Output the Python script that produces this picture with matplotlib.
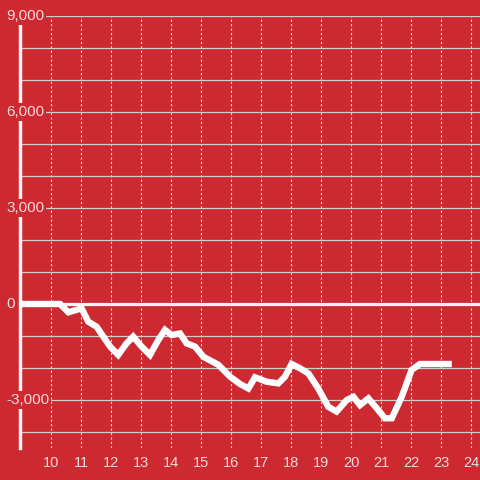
import matplotlib
matplotlib.use('Agg')
import matplotlib.pyplot as plt
import matplotlib.transforms as mtransforms
import numpy as np

BG = '#cc2a30'
TXT = '#f3dada'

plt.rc('font', family=['Liberation Sans', 'DejaVu Sans'], size=10.5)

# hours of the day and running balance
hours = [9.0, 10.3, 10.58, 11.02, 11.24, 11.52, 11.97, 12.24, 12.52, 12.74, 13.02, 13.3,
         13.58, 13.8, 14.02, 14.3, 14.52, 14.8, 15.08, 15.58, 15.97, 16.3, 16.58, 16.8,
         17.19, 17.58, 17.8, 18.02, 18.3, 18.58, 18.91, 19.24, 19.52, 19.86, 20.08, 20.3,
         20.58, 20.86, 21.13, 21.36, 21.69, 22.02, 22.3, 23.36]
balance = [0, 0, -260, -135, -550, -710, -1330, -1590, -1230, -1020, -1330, -1590,
           -1120, -810, -970, -920, -1230, -1330, -1650, -1900, -2270, -2500, -2640, -2290,
           -2430, -2480, -2270, -1875, -2010, -2170, -2640, -3210, -3360, -3000, -2900, -3160,
           -2950, -3260, -3570, -3570, -2900, -2060, -1875, -1875]

x_ticks = list(range(10, 25))
y_ticks = [-3000, 0, 3000, 6000, 9000]
y_labels = ['-3,000', '0', '3,000', '6,000', '9,000']

fig = plt.figure(figsize=(4.8, 4.8), dpi=100, facecolor=BG)
ax = fig.add_axes([20 / 480, 32 / 480, 460 / 480, 432 / 480])
ax.set_facecolor(BG)
ax.set_xlim(8.967, 24.3)
ax.set_ylim(-4500, 9000)

for s in ['top', 'right', 'bottom']:
    ax.spines[s].set_visible(False)
ax.spines['left'].set_color('#f5f5f5')
ax.spines['left'].set_linewidth(2.5)

ax.set_axisbelow(True)
ax.set_yticks(np.arange(-4000, 9001, 1000))
ax.set_yticklabels([])
ax.set_xticks(x_ticks)
ax.set_xticklabels([str(t) for t in x_ticks])
ax.tick_params(axis='y', length=0)
ax.tick_params(axis='x', length=0, pad=6, colors=TXT, labelsize=10.5)
ax.grid(axis='y', color='#cfcfcf', linewidth=0.9, linestyle='-')
ax.grid(axis='x', color='#f0e0e0', linewidth=0.8, linestyle=(0, (2, 2)))

ax.axhline(0, color='#f5f5f5', linewidth=2.3, zorder=2)
ax.plot(hours, balance, color='white', linewidth=4.6, solid_joinstyle='miter',
        solid_capstyle='butt', zorder=3)

trans = mtransforms.blended_transform_factory(ax.transAxes, ax.transData)
for v, lab in zip(y_ticks, y_labels):
    ax.text(-14 / 460, v, lab, transform=trans, ha='left', va='center', color=TXT,
            fontsize=11, zorder=5,
            bbox=dict(facecolor=BG, edgecolor='none', pad=1.5))

fig.savefig('out.png', dpi=100, facecolor=BG)
